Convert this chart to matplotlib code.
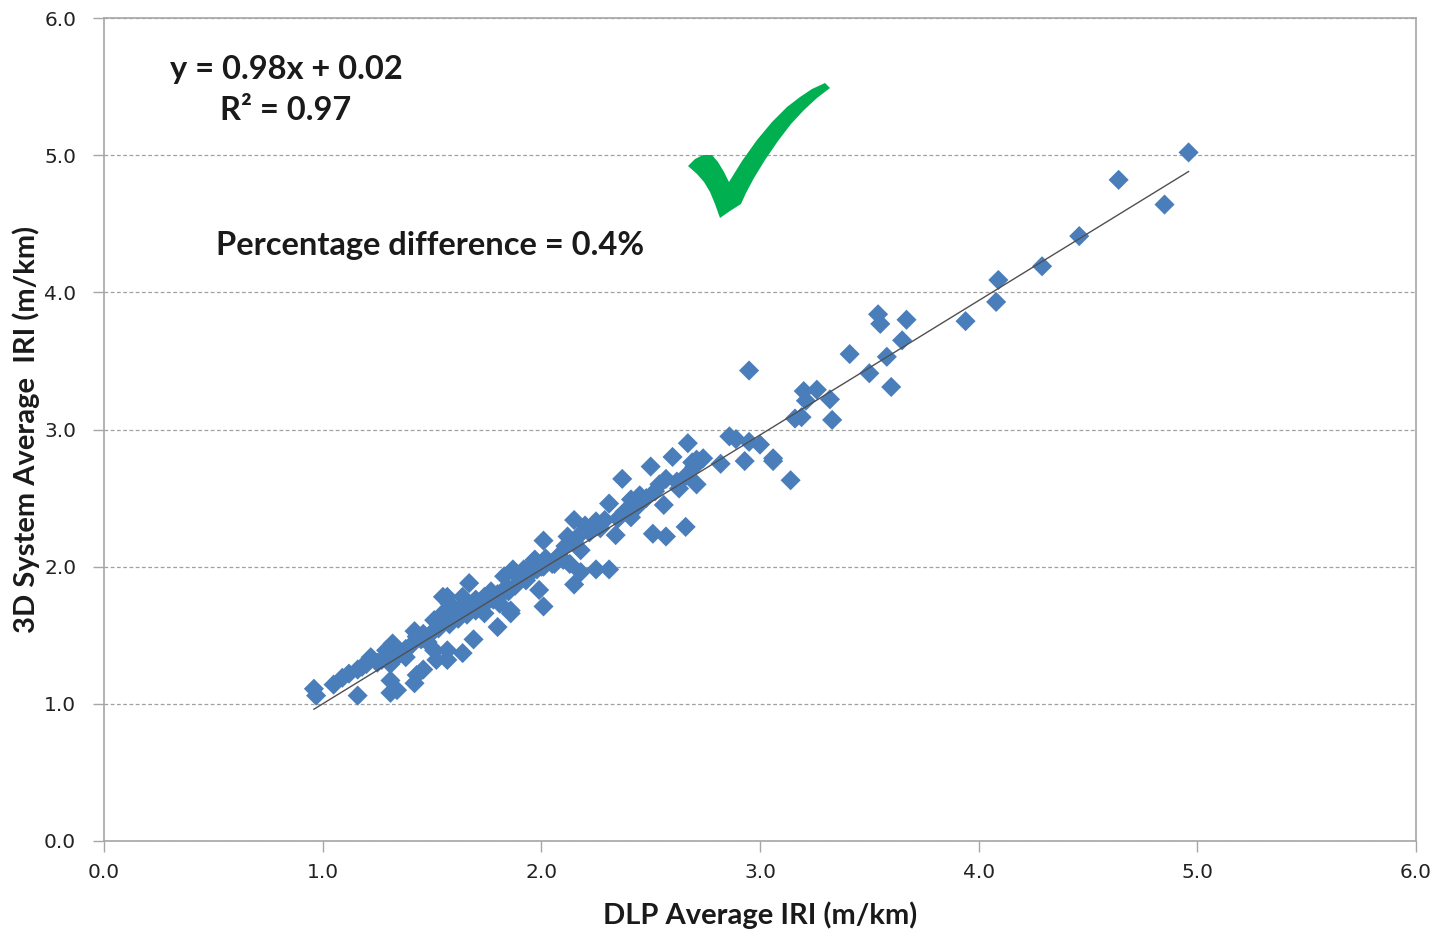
import matplotlib
matplotlib.use("Agg")
import matplotlib.pyplot as plt
from matplotlib.patches import Polygon
import numpy as np

# ---- data ----
dlp_iri = [
    0.96, 0.97, 1.05, 1.09, 1.12, 1.16, 1.20, 1.22, 1.16, 1.18, 1.25, 1.27, 1.31, 1.31, 1.34, 1.31,
    1.35, 1.38, 1.42, 1.43, 1.46, 1.32, 1.29, 1.42, 1.43, 1.46, 1.51, 1.52, 1.57, 1.57, 1.64, 1.69,
    1.51, 1.55, 1.60, 1.55, 1.58, 1.64, 1.67, 1.70, 1.76, 1.81, 1.86, 1.80, 1.84, 1.92, 1.99, 2.01,
    1.74, 1.57, 1.64, 1.74, 1.80, 1.87, 1.83, 1.86,
    1.48, 1.53, 1.58, 1.62, 1.66, 1.68, 1.72, 1.75, 1.78, 1.82, 1.85, 1.88, 1.90, 1.95, 1.97, 2.00,
    1.38, 1.40, 1.45, 1.50, 1.62, 1.70, 1.77, 1.93, 1.98, 2.02, 2.05, 2.08,
    2.01, 1.97, 1.95, 2.01, 2.06, 2.10, 2.13, 2.18, 2.25, 2.31, 2.15, 2.18, 2.12, 2.15, 2.18, 2.25,
    2.29, 2.34, 2.41, 2.31, 2.37, 2.41, 2.45, 2.50, 2.51, 2.57, 2.66, 2.56, 2.54, 2.57, 2.63, 2.60,
    2.67, 2.70, 2.71, 2.74, 2.71, 2.82, 2.86, 2.89, 2.95, 3.00, 3.06, 3.06, 2.93, 3.14, 2.95,
    2.22, 2.20, 2.27, 2.35, 2.38, 2.44, 2.48, 2.52, 2.62, 2.66, 2.69, 2.11, 2.15,
    3.16, 3.19, 3.20, 3.21, 3.26, 3.32, 3.33, 3.41, 3.50, 3.54, 3.55, 3.58, 3.60, 3.65, 3.67, 3.94,
    4.08, 4.09, 4.29, 4.46, 4.64, 4.85, 4.96,
]
sys3d_iri = [
    1.11, 1.06, 1.14, 1.19, 1.22, 1.25, 1.29, 1.34, 1.06, 1.27, 1.30, 1.32, 1.17, 1.08, 1.10, 1.29,
    1.36, 1.34, 1.15, 1.21, 1.25, 1.44, 1.39, 1.53, 1.49, 1.51, 1.39, 1.32, 1.39, 1.32, 1.37, 1.47,
    1.61, 1.66, 1.63, 1.78, 1.73, 1.71, 1.88, 1.76, 1.78, 1.73, 1.66, 1.56, 1.85, 1.98, 1.83, 1.71,
    1.66, 1.78, 1.78, 1.78, 1.80, 1.98, 1.93, 1.68,
    1.45, 1.55, 1.58, 1.62, 1.65, 1.70, 1.72, 1.74, 1.76, 1.80, 1.82, 1.86, 1.92, 1.95, 2.05, 2.00,
    1.40, 1.42, 1.47, 1.52, 1.68, 1.68, 1.82, 1.90, 1.98, 2.06, 2.02, 2.08,
    2.19, 2.05, 2.00, 2.00, 2.02, 2.05, 2.02, 1.96, 1.98, 1.98, 1.87, 2.12, 2.22, 2.34, 2.24, 2.33,
    2.34, 2.23, 2.36, 2.46, 2.64, 2.49, 2.52, 2.73, 2.24, 2.22, 2.29, 2.45, 2.60, 2.64, 2.57, 2.80,
    2.90, 2.73, 2.78, 2.79, 2.60, 2.75, 2.95, 2.93, 2.91, 2.89, 2.79, 2.77, 2.77, 2.63, 3.43,
    2.25, 2.30, 2.28, 2.35, 2.40, 2.44, 2.50, 2.55, 2.62, 2.66, 2.76, 2.15, 2.18,
    3.08, 3.09, 3.28, 3.21, 3.29, 3.22, 3.07, 3.55, 3.41, 3.84, 3.77, 3.53, 3.31, 3.65, 3.80, 3.79,
    3.93, 4.09, 4.19, 4.41, 4.82, 4.64, 5.02,
]
fit_slope = 0.98
fit_intercept = 0.02
ticks = [0.0, 1.0, 2.0, 3.0, 4.0, 5.0, 6.0]
tick_labels = ["0.0", "1.0", "2.0", "3.0", "4.0", "5.0", "6.0"]
x_label = "DLP Average IRI (m/km)"
y_label = "3D System Average  IRI (m/km)"
eq_text = "y = 0.98x + 0.02"
r2_text = "R² = 0.97"
diff_text = "Percentage difference = 0.4%"

W, H = 1439, 934
fig = plt.figure(figsize=(W / 100, H / 100), dpi=100)
ax = fig.add_axes([104 / W, 1 - 841 / H, (1416 - 104) / W, (841 - 18) / H])

ax.set_xlim(0, 6)
ax.set_ylim(0, 6)
ax.set_xticks(ticks)
ax.set_yticks(ticks)
ax.set_xticklabels(tick_labels)
ax.set_yticklabels(tick_labels)
ax.tick_params(axis="both", direction="out", length=8, width=1, color="#a6a6a6",
               labelsize=14.5, labelcolor="#222222")
ax.tick_params(axis="x", pad=8)
ax.tick_params(axis="y", pad=12)
for s in ax.spines.values():
    s.set_color("#a6a6a6")
    s.set_linewidth(1.2)

ax.grid(axis="y", color="#a0a0a0", linestyle=(0, (3, 2)), linewidth=0.9)
ax.set_axisbelow(True)

ax.scatter(dlp_iri, sys3d_iri, marker="D", s=105, color="#4a7ebb", edgecolors="none", zorder=3)

xl = np.array([min(dlp_iri), max(dlp_iri)])
ax.plot(xl, fit_slope * xl + fit_intercept, color="#505050", linewidth=1.0, zorder=4)

bold = dict(family=["Lato", "DejaVu Sans"], fontweight="bold", color="#1a1a1a")
ax.set_xlabel(x_label, fontsize=21, labelpad=14, **bold)
ax.set_ylabel(y_label, fontsize=21, labelpad=3, **bold)

def fx(px):
    return px / W

def fy(py):
    return 1 - py / H

fig.text(fx(286), fy(69), eq_text, ha="center", va="center", fontsize=23.5, **bold)
fig.text(fx(286), fy(111), r2_text, ha="center", va="center", fontsize=23.5, **bold)
fig.text(fx(430), fy(245), diff_text, ha="center", va="center", fontsize=23.5, **bold)

check_px = [(688, 166), (695, 159), (703, 155), (712, 155), (718, 162), (724, 172), (729, 182),
            (742, 161), (757, 140), (772, 122), (787, 107), (800, 97), (812, 89), (825, 83),
            (830, 88), (817, 98), (804, 110), (791, 124), (778, 141), (765, 160), (754, 178),
            (746, 193), (741, 204), (730, 211), (720, 218), (715, 204), (710, 192), (704, 182),
            (697, 174)]
check = Polygon([(fx(x), fy(y)) for x, y in check_px], closed=True, transform=fig.transFigure,
                facecolor="#00b050", edgecolor="none", zorder=5)
fig.patches.append(check)

fig.savefig("out.png", dpi=100)
